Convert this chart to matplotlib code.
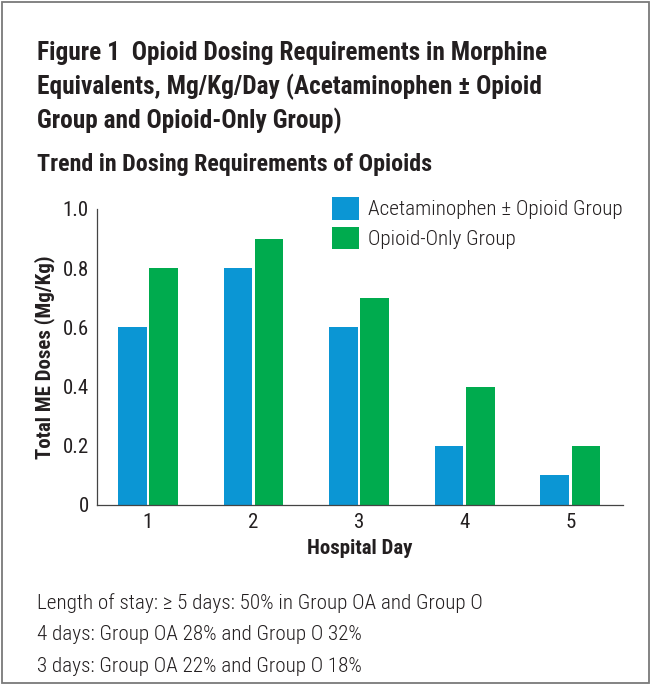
import matplotlib
matplotlib.use("Agg")
import matplotlib.pyplot as plt
from matplotlib import font_manager
from matplotlib.patches import Patch, Rectangle
import numpy as np

# data
days = [1, 2, 3, 4, 5]
acet_opioid = [0.6, 0.8, 0.6, 0.2, 0.1]
opioid_only = [0.8, 0.9, 0.7, 0.4, 0.2]
series_names = ["Acetaminophen \u00b1 Opioid Group", "Opioid-Only Group"]
yticks = [0, 0.2, 0.4, 0.6, 0.8, 1.0]
ytick_labels = ["0", "0.2", "0.4", "0.6", "0.8", "1.0"]
title_lines = ["Figure 1  Opioid Dosing Requirements in Morphine",
               "Equivalents, Mg/Kg/Day (Acetaminophen \u00b1 Opioid",
               "Group and Opioid-Only Group)"]
subtitle = "Trend in Dosing Requirements of Opioids"
notes = ["Length of stay: \u2265 5 days: 50% in Group OA and Group O",
         "4 days: Group OA 28% and Group O 32%",
         "3 days: Group OA 22% and Group O 18%"]

installed = {f.name for f in font_manager.fontManager.ttflist}
cond = next((n for n in ["Roboto Condensed", "Liberation Sans Narrow", "Open Sans Condensed"]
             if n in installed), "Roboto")
fam = [cond, "DejaVu Sans"]

blue = "#0b96d4"
green = "#00ab4e"
ink = "#231f20"

W, H = 652, 687
fig = plt.figure(figsize=(W / 100, H / 100), dpi=100)

def fy(py):
    return 1 - py / H

# outer frame
fig.patches.append(Rectangle((2 / W, fy(683)), 647 / W, 681 / H, transform=fig.transFigure,
                             fill=False, edgecolor="#7a7a7a", linewidth=1.3))

for i, line in enumerate(title_lines):
    fig.text(37 / W, fy(60 + 34 * i), line, family=fam, weight="bold", fontsize=18.3,
             color=ink, va="baseline")
fig.text(37 / W, fy(171), subtitle, family=fam, weight="bold", fontsize=17.3, color=ink, va="baseline")
for i, line in enumerate(notes):
    fig.text(37 / W, fy(609 + 31.5 * i), line, family=fam, weight="light", fontsize=15.2,
             color=ink, va="baseline")

ax = fig.add_axes([97 / W, fy(505), 526 / W, 296 / H])
x = np.array(days)
w = 0.27
ax.bar(x - 0.148, acet_opioid, width=w, color=blue)
ax.bar(x + 0.148, opioid_only, width=w, color=green)

ax.set_xlim(0.517, 5.5)
ax.set_ylim(0, 1.0)
ax.set_xticks(days)
ax.set_xticklabels([str(d) for d in days], family=fam, fontsize=15, color=ink)
ax.set_yticks(yticks)
ax.set_yticklabels(ytick_labels, family=fam, fontsize=15, color=ink)
ax.tick_params(length=0, pad=6)
for s in ["top", "right"]:
    ax.spines[s].set_visible(False)
for s in ["left", "bottom"]:
    ax.spines[s].set_color("#444444")
    ax.spines[s].set_linewidth(0.9)

ax.set_xlabel("Hospital Day", family=fam, weight="bold", fontsize=15, color=ink, labelpad=5)
ax.set_ylabel("Total ME Doses (Mg/Kg)", family=fam, weight="bold", fontsize=15, color=ink, labelpad=5)

fs = 15.2
px = fs * 100 / 72
handles = [Patch(facecolor=blue), Patch(facecolor=green)]
fig.legend(handles, series_names, loc="upper left", bbox_to_anchor=(332 / W, fy(197)),
           frameon=False, borderpad=0, borderaxespad=0, handlelength=27 / px, handleheight=27 / px,
           handletextpad=9 / px, labelspacing=7 / px,
           prop={"family": fam, "weight": "light", "size": fs}, labelcolor=ink)

fig.savefig("out.png", dpi=100, facecolor="white")
